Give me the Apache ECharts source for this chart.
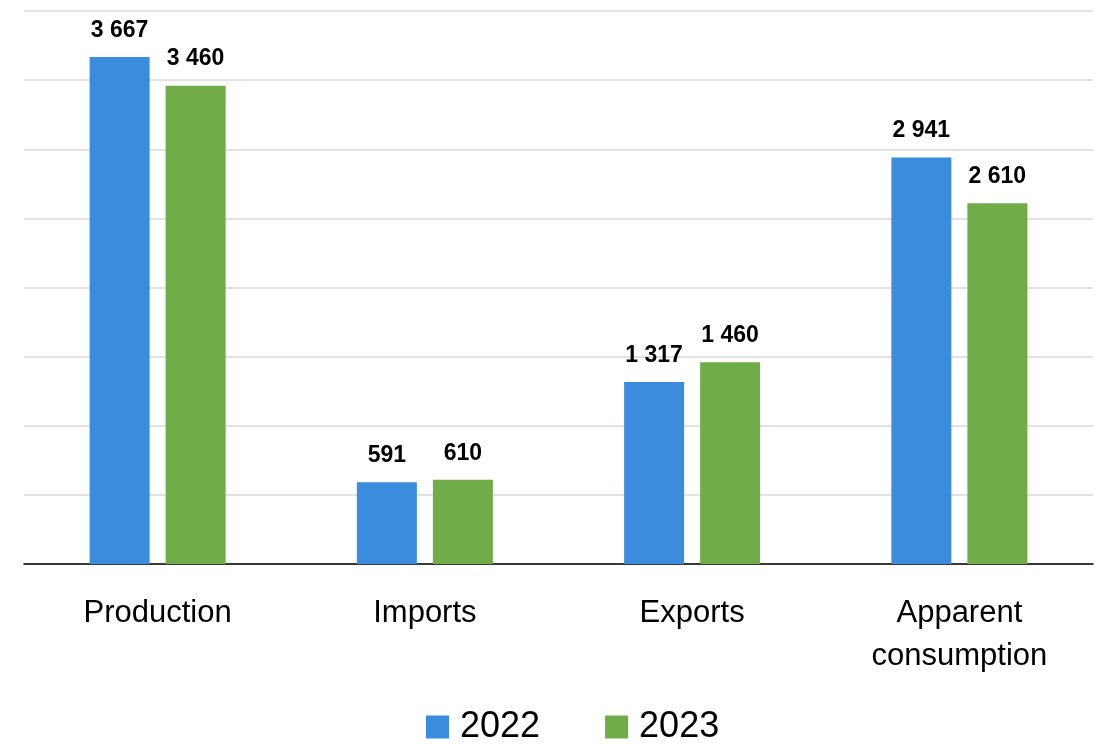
<!DOCTYPE html>
<html><head><meta charset="utf-8">
<script src="https://cdn.jsdelivr.net/npm/echarts@6/dist/echarts.min.js"></script>
<style>html,body{margin:0;padding:0;background:#fff}#c{width:1099px;height:744px}</style>
</head><body><div id="c"></div>
<script>
const categories = ['Production', 'Imports', 'Exports', 'Apparent\nconsumption'];
const seriesNames = ['2022', '2023'];
const values2022 = [3667, 591, 1317, 2941];
const values2023 = [3460, 610, 1460, 2610];
const colors = ['#3b8cdd', '#70ac47'];

const fmt = v => String(v).replace(/\B(?=(\d{3})+(?!\d))/g, ' ');
const FONT = '"Liberation Sans", Arial, sans-serif';
const labelCfg = {
  show: true, position: 'top', distance: 15,
  formatter: p => fmt(p.value),
  color: '#000', fontSize: 23, fontWeight: 'bold', fontFamily: FONT
};
const chart = echarts.init(document.getElementById('c'), null, {renderer: 'canvas'});
chart.setOption({
  animation: false,
  backgroundColor: '#fff',
  grid: {left: 24, right: 6, top: 11, bottom: 180, containLabel: false},
  legend: {
    data: seriesNames, left: 426, top: 709, padding: 0,
    itemWidth: 23, itemHeight: 23, itemGap: 65, icon: 'rect',
    textStyle: {fontSize: 36, color: '#000', fontFamily: FONT, padding: [0, 0, 0, 6]}
  },
  xAxis: {
    type: 'category', data: categories,
    axisLine: {show: true, lineStyle: {color: '#000', width: 1.5}},
    axisTick: {show: false},
    axisLabel: {fontSize: 31, color: '#000', fontFamily: FONT, margin: 28, lineHeight: 43, interval: 0}
  },
  yAxis: {
    type: 'value', min: 0, max: 4000, interval: 500,
    axisLine: {show: false}, axisTick: {show: false}, axisLabel: {show: false},
    splitLine: {lineStyle: {color: '#d9d9d9', width: 1.5}}
  },
  series: [
    {name: seriesNames[0], type: 'bar', data: values2022, barWidth: 60, barGap: '26.7%',
     itemStyle: {color: colors[0]}, label: labelCfg},
    {name: seriesNames[1], type: 'bar', data: values2023, barWidth: 60,
     itemStyle: {color: colors[1]}, label: labelCfg}
  ]
});
</script></body></html>
